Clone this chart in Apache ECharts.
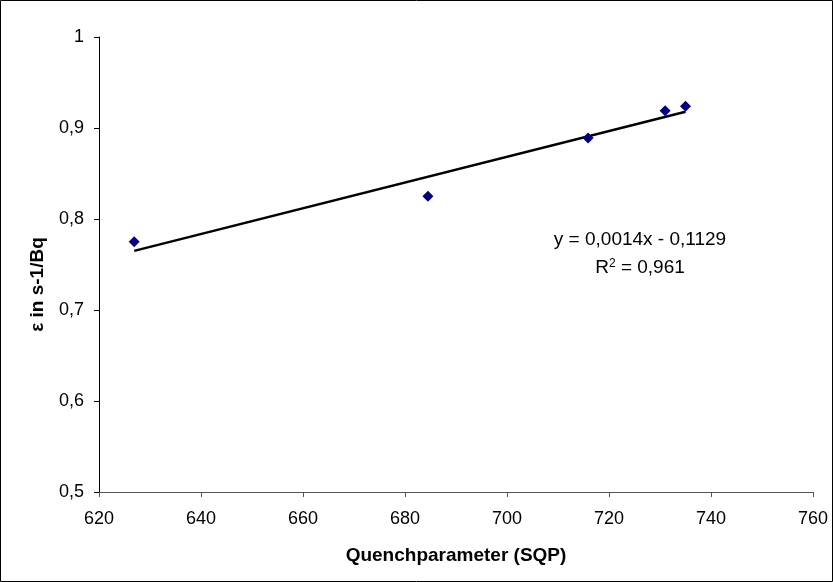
<!DOCTYPE html>
<html><head><meta charset="utf-8">
<script src="https://cdn.jsdelivr.net/npm/echarts@6/dist/echarts.min.js"></script>
<style>html,body{margin:0;padding:0;background:#fff}#c{width:833px;height:582px}</style>
</head><body><div id="c"></div>
<script>
var sqp = [626.9, 684.5, 715.9, 731.0, 735.0];
var eps = [0.775, 0.825, 0.889, 0.919, 0.924];
var xTicks = {min: 620, max: 760, step: 20};
var yTicks = {min: 0.5, max: 1.0, step: 0.1};
var equationText = 'y = 0,0014x - 0,1129';
var r2Value = '0,961';

// linear regression trend line
var n = sqp.length, mx = 0, my = 0;
for (var i = 0; i < n; i++) { mx += sqp[i]; my += eps[i]; }
mx /= n; my /= n;
var sxy = 0, sxx = 0;
for (var i = 0; i < n; i++) { sxy += (sqp[i]-mx)*(eps[i]-my); sxx += (sqp[i]-mx)*(sqp[i]-mx); }
var slope = sxy / sxx, icpt = my - slope * mx;
var xmin = Math.min.apply(null, sqp), xmax = Math.max.apply(null, sqp);
var trend = [[xmin, slope*xmin + icpt], [xmax, slope*xmax + icpt]];
var pts = sqp.map(function (x, i) { return [x, eps[i]]; });

var fmt = function (v) { return String(Math.round(v*10)/10).replace('.', ','); };
var font = 'Liberation Sans, Arial, sans-serif';

var chart = echarts.init(document.getElementById('c'), null, {renderer: 'canvas'});
chart.setOption({
  animation: false,
  backgroundColor: '#fff',
  grid: {left: 99, right: 20, top: 37, bottom: 90, containLabel: false},
  xAxis: {
    type: 'value', min: xTicks.min, max: xTicks.max, interval: xTicks.step,
    name: 'Quenchparameter (SQP)', nameLocation: 'middle', nameGap: 54,
    nameTextStyle: {fontFamily: font, fontSize: 19, fontWeight: 'bold', color: '#000'},
    axisLine: {lineStyle: {color: '#555', width: 1}},
    axisTick: {show: true, length: 5, lineStyle: {color: '#555'}},
    axisLabel: {fontFamily: font, fontSize: 18, color: '#000', margin: 18},
    splitLine: {show: false}
  },
  yAxis: {
    type: 'value', min: yTicks.min, max: yTicks.max, interval: yTicks.step,
    name: 'ε in s-1/Bq', nameLocation: 'middle', nameGap: 52, nameRotate: 90,
    nameTextStyle: {fontFamily: font, fontSize: 19, fontWeight: 'bold', color: '#000', padding: [0, 40, 0, 0]},
    axisLine: {lineStyle: {color: '#000', width: 1}},
    axisTick: {show: true, length: 5, lineStyle: {color: '#000'}},
    axisLabel: {fontFamily: font, fontSize: 18, color: '#000', margin: 15, formatter: fmt},
    splitLine: {show: false}
  },
  series: [
    {type: 'line', data: trend, symbol: 'none', lineStyle: {color: '#000', width: 2.5}, z: 2},
    {type: 'scatter', data: pts, symbol: 'diamond', symbolSize: 11, itemStyle: {color: '#000080', opacity: 1}, z: 3}
  ],
  graphic: [
    {type: 'rect', shape: {x: 0.5, y: 0.5, width: 832, height: 581}, style: {fill: 'none', stroke: '#000', lineWidth: 1}, silent: true},
    {type: 'text', x: 640, y: 240, style: {text: equationText, font: '19px ' + font, fill: '#000', align: 'center', verticalAlign: 'middle'}},
    {type: 'text', x: 640, y: 268, style: {
      text: '{r|R}{s|2}{r| = ' + r2Value + '}', align: 'center', verticalAlign: 'middle',
      rich: {r: {fontFamily: font, fontSize: 19, color: '#000'},
             s: {fontFamily: font, fontSize: 12, color: '#000', verticalAlign: 'top', padding: [0,0,9,0]}}
    }}
  ]
});
</script></body></html>
